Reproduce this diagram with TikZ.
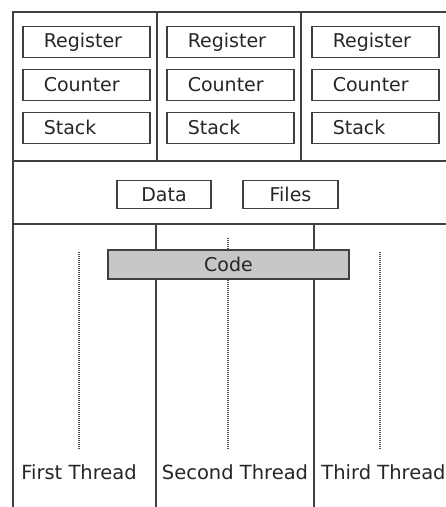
\documentclass[tikz,border=0pt]{standalone}
\usepackage{fontspec}
\setmainfont{DejaVu Sans}
\begin{document}
\begin{tikzpicture}[x=1pt,y=-1pt,
  divider/.style={draw=black!75,line width=1.6pt},
  regbox/.style={draw=black!75,line width=1.6pt,anchor=north west,
    minimum height=31pt,text width=85pt,inner xsep=21pt,inner ysep=0pt,align=left,
    font=\fontsize{19}{22}\selectfont,text=black!85},
  cbox/.style={draw=black!75,line width=1.6pt,minimum height=28pt,inner ysep=0pt,
    font=\fontsize{19}{22}\selectfont,text=black!85},
  thr/.style={font=\fontsize{19.5}{22}\selectfont,text=black!85},
  dotline/.style={draw=black!70,line width=1.3pt,dash pattern=on 1pt off 1pt}]
\useasboundingbox (0,0) rectangle (446,507);
% frame and dividers
\draw[divider] (446,12) -- (13,12) -- (13,507);
\draw[divider] (13,161) -- (446,161);
\draw[divider] (13,224) -- (446,224);
\draw[divider] (157,12) -- (157,161);
\draw[divider] (301,12) -- (301,161);
\draw[divider] (156,224) -- (156,507);
\draw[divider] (314,224) -- (314,507);
% register boxes
\foreach \c/\x in {1/22,2/166,3/311}{
  \node[regbox] (reg\c) at (\x,25.5) {Register};
  \node[regbox] (cnt\c) at (\x,68.5) {Counter};
  \node[regbox] (stk\c) at (\x,111.5) {Stack};
}
% data and files
\node[cbox,minimum width=94pt] (data) at (164,194.5) {Data};
\node[cbox,minimum width=95pt] (files) at (290.5,194.5) {Files};
% dotted thread lines
\coordinate (t1a) at (79,252); \coordinate (t1b) at (79,449);
\coordinate (t2a) at (228,238); \coordinate (t2b) at (228,450);
\coordinate (t3a) at (380,252); \coordinate (t3b) at (380,449);
\draw[dotline] (t1a) -- (t1b);
\draw[dotline] (t2a) -- (t2b);
\draw[dotline] (t3a) -- (t3b);
% code
\node[cbox,fill=black!22,minimum width=241pt,minimum height=29pt] (code) at (228.5,264.5) {Code};
% thread labels
\node[thr] (th1) at (79,472) {First Thread};
\node[thr] (th2) at (235,472) {Second Thread};
\node[thr] (th3) at (383.5,472) {Third Thread};
\end{tikzpicture}
\end{document}
